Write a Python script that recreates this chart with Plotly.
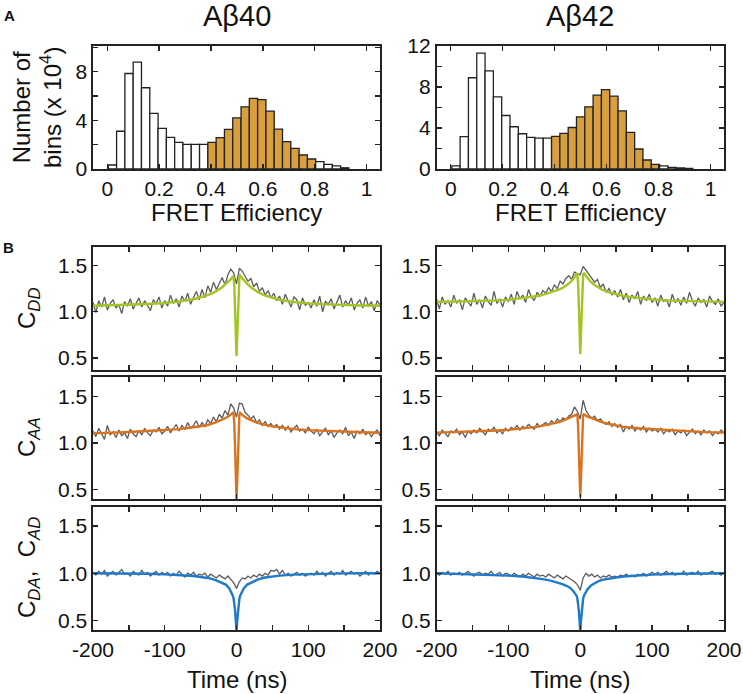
import plotly.graph_objects as go

# ---------------- data ----------------
fret_bin_centers = [0.020, 0.052, 0.084, 0.116, 0.148, 0.180, 0.212, 0.244, 0.276, 0.308,
                    0.340, 0.372, 0.404, 0.436, 0.468, 0.500, 0.532, 0.564, 0.596, 0.628,
                    0.660, 0.692, 0.724, 0.756, 0.788, 0.820, 0.852, 0.884, 0.916]
ab40_counts = [0.33, 3.1, 7.84, 8.77, 6.67, 4.56, 3.33, 2.6, 2.19, 2.02,
               2.02, 2.02, 2.19, 2.57, 3.25, 4.2, 5.1, 5.8, 5.7, 4.75,
               3.28, 2.24, 1.69, 1.15, 0.82, 0.6, 0.38, 0.25, 0.1]
ab42_counts = [0.3, 3.15, 8.9, 11.3, 9.57, 7.04, 5.22, 4.12, 3.44, 3.08,
               3.02, 3.02, 3.18, 3.47, 4.05, 5.09, 6.07, 7.2, 7.75, 7.1,
               5.68, 3.57, 1.95, 0.88, 0.45, 0.3, 0.16, 0.1, 0.06]
selected_range = [0.4, 0.8]
hist_xticks = [0, 0.2, 0.4, 0.6, 0.8, 1.0]
hist_xticklabels = ["0", "0.2", "0.4", "0.6", "0.8", "1"]

time_ns = list(range(-200, 201, 4))

ab40_cdd = [1.10, 0.99, 1.12, 1.05, 1.16, 1.02, 1.09, 1.13, 1.04, 1.08, 0.98, 1.11, 1.06, 1.14, 1.03, 1.10, 1.15, 1.05, 1.12, 1.07, 1.01, 1.13, 1.09, 1.16, 1.04,
            1.12, 1.06, 1.18, 1.09, 1.14, 1.05, 1.17, 1.11, 1.20, 1.08, 1.15, 1.22, 1.13,
            1.24, 1.15, 1.28, 1.21, 1.32, 1.24, 1.30, 1.37, 1.29, 1.40, 1.46, 1.42,
            1.30,
            1.47, 1.44, 1.38, 1.33, 1.36, 1.27, 1.31, 1.22, 1.26, 1.18, 1.23, 1.15,
            1.20, 1.12, 1.17, 1.08, 1.19, 1.11, 1.05, 1.16, 1.13, 1.02, 1.15, 1.07, 1.10,
            1.04, 1.13, 1.06, 1.17, 1.00, 1.11, 1.08, 1.14, 1.03, 1.10, 1.18, 1.05, 1.12, 1.07, 1.15, 1.02, 1.09, 1.13, 1.04, 1.16, 1.06, 1.11, 1.01, 1.12, 1.07]
ab40_caa = [1.13, 1.07, 1.16, 1.10, 1.04, 1.19, 1.09, 1.12, 1.06, 1.14, 1.08, 1.11, 1.05, 1.15, 1.10, 1.07, 1.13, 1.09, 1.16, 1.11, 1.08, 1.14, 1.12, 1.17, 1.10,
            1.13, 1.18, 1.11, 1.16, 1.20, 1.13, 1.19, 1.15, 1.22, 1.16, 1.19, 1.24, 1.17,
            1.22, 1.18, 1.25, 1.21, 1.28, 1.23, 1.31, 1.27, 1.35, 1.30, 1.42, 1.38,
            1.28,
            1.43, 1.42, 1.33, 1.30, 1.26, 1.29, 1.22, 1.25, 1.19, 1.23, 1.18, 1.21,
            1.17, 1.20, 1.15, 1.19, 1.14, 1.18, 1.12, 1.16, 1.19, 1.13, 1.15, 1.11, 1.17,
            1.13, 1.10, 1.15, 1.08, 1.12, 1.16, 1.09, 1.13, 1.06, 1.11, 1.14, 1.10, 1.17, 1.08, 1.12, 1.05, 1.13, 1.10, 1.15, 1.09, 1.12, 1.07, 1.11, 1.14, 1.08]
ab40_cda = [1.01, 0.98, 1.02, 0.99, 1.03, 0.97, 1.00, 1.02, 0.98, 1.01, 1.04, 0.99, 1.00, 0.97, 1.02, 1.00, 0.98, 1.03, 0.99, 1.01, 0.97, 1.00, 1.02, 0.98, 1.01,
            0.99, 1.01, 0.97, 1.00, 0.98, 1.02, 0.99, 0.96, 1.00, 0.98, 1.01, 0.97, 0.99,
            0.98, 1.00, 0.96, 0.99, 0.97, 0.95, 0.98, 0.96, 0.94, 0.97, 0.93, 0.90,
            0.84,
            0.91, 0.95, 0.94, 0.97, 0.95, 0.98, 0.96, 0.99, 0.97, 1.00, 0.98, 1.03,
            1.02, 1.04, 0.99, 1.03, 0.98, 1.00, 0.97, 0.99, 1.01, 0.98, 1.00, 0.97, 0.99,
            1.00, 0.98, 1.02, 0.99, 1.01, 0.97, 1.00, 1.02, 0.98, 1.01, 0.99, 1.03, 0.98, 1.00, 1.02, 0.99, 1.01, 0.97, 1.00, 1.02, 0.98, 1.01, 0.99, 1.02, 1.00]
ab42_cdd = [1.14, 1.03, 1.16, 1.08, 1.12, 1.05, 1.18, 1.09, 1.13, 1.02, 1.15, 1.10, 1.06, 1.20, 1.08, 1.13, 1.04, 1.17, 1.11, 1.07, 1.22, 1.09, 1.14, 1.05, 1.16,
            1.11, 1.19, 1.08, 1.22, 1.14, 1.18, 1.10, 1.24, 1.16, 1.12, 1.21, 1.17, 1.23,
            1.20, 1.26, 1.22, 1.29, 1.25, 1.33, 1.30, 1.36, 1.39, 1.35, 1.43, 1.41,
            1.40,
            1.49, 1.45, 1.41, 1.37, 1.32, 1.35, 1.26, 1.30, 1.21, 1.25, 1.18, 1.23,
            1.16, 1.24, 1.13, 1.20, 1.10, 1.18, 1.14, 1.22, 1.08, 1.17, 1.12, 1.19, 1.10,
            1.15, 1.06, 1.18, 1.11, 1.13, 1.05, 1.19, 1.10, 1.14, 1.07, 1.16, 1.09, 1.21, 1.12, 1.06, 1.15, 1.10, 1.13, 1.05, 1.17, 1.11, 1.08, 1.14, 1.06, 1.10]
ab42_caa = [1.12, 1.08, 1.14, 1.10, 1.07, 1.13, 1.11, 1.15, 1.09, 1.12, 1.06, 1.13, 1.10, 1.14, 1.11, 1.16, 1.12, 1.09, 1.15, 1.13, 1.17, 1.11, 1.14, 1.10, 1.16,
            1.13, 1.17, 1.15, 1.19, 1.14, 1.18, 1.16, 1.20, 1.17, 1.15, 1.21, 1.18, 1.20,
            1.22, 1.19, 1.24, 1.21, 1.26, 1.23, 1.27, 1.25, 1.29, 1.31, 1.39, 1.34,
            1.26,
            1.46, 1.35, 1.30, 1.27, 1.29, 1.24, 1.26, 1.22, 1.20, 1.23, 1.18, 1.21,
            1.17, 1.20, 1.12, 1.18, 1.15, 1.19, 1.13, 1.17, 1.14, 1.18, 1.12, 1.16, 1.13,
            1.15, 1.12, 1.16, 1.10, 1.14, 1.12, 1.15, 1.09, 1.13, 1.11, 1.14, 1.08, 1.12, 1.15, 1.10, 1.13, 1.09, 1.14, 1.11, 1.13, 1.08, 1.12, 1.10, 1.14, 1.11]
ab42_cda = [1.00, 0.98, 1.01, 0.99, 1.02, 0.98, 1.00, 0.99, 1.01, 0.98, 1.00, 1.02, 0.99, 0.97, 1.00, 1.01, 0.98, 1.00, 0.99, 1.02, 0.98, 0.99, 1.01, 0.97, 1.00,
            0.99, 0.97, 1.00, 0.98, 0.96, 0.99, 0.97, 1.00, 0.98, 0.96, 0.99, 0.97, 0.98,
            0.96, 0.99, 0.97, 0.95, 0.98, 0.96, 0.94, 0.97, 0.95, 0.93, 0.91, 0.88,
            0.82,
            0.95, 1.00, 0.97, 0.99, 0.96, 0.98, 0.95, 0.97, 0.96, 0.98, 0.96, 0.97,
            0.96, 0.98, 0.97, 0.99, 0.97, 0.98, 0.96, 0.99, 0.98, 1.00, 0.97, 0.99, 1.01,
            0.99, 1.01, 0.98, 1.00, 1.02, 0.99, 1.01, 0.98, 1.00, 0.99, 1.02, 0.98, 1.00, 1.01, 0.99, 1.02, 0.98, 1.00, 0.99, 1.01, 1.02, 0.99, 1.00, 0.98, 1.01]

fit_time_ns = [-200, -175, -150, -125, -100, -80, -60, -50, -40, -30, -25, -20, -15, -10, -7, -5, -4, -3, -2, -1,
               0, 1, 2, 3, 4, 5, 7, 10, 15, 20, 25, 30, 40, 50, 60, 80, 100, 125, 150, 175, 200]
ab40_cdd_fit = [1.065, 1.069, 1.075, 1.083, 1.095, 1.11, 1.135, 1.155, 1.18, 1.215, 1.24, 1.265, 1.30, 1.335, 1.36, 1.385, 1.37, 1.27, 1.05, 0.72,
                0.52, 0.72, 1.05, 1.27, 1.37, 1.39, 1.37, 1.34, 1.30, 1.265, 1.235, 1.21, 1.175, 1.15, 1.13, 1.105, 1.09, 1.08, 1.072, 1.068, 1.065]
ab40_caa_fit = [1.105, 1.11, 1.12, 1.13, 1.14, 1.15, 1.17, 1.18, 1.195, 1.22, 1.235, 1.25, 1.27, 1.295, 1.31, 1.325, 1.31, 1.2, 0.95, 0.6,
                0.40, 0.6, 0.95, 1.2, 1.31, 1.325, 1.31, 1.29, 1.265, 1.245, 1.23, 1.215, 1.195, 1.18, 1.17, 1.15, 1.14, 1.13, 1.122, 1.116, 1.112]
ab40_cda_fit = [1.0, 1.0, 0.998, 0.995, 0.988, 0.98, 0.97, 0.96, 0.95, 0.93, 0.915, 0.90, 0.88, 0.84, 0.80, 0.76, 0.73, 0.68, 0.61, 0.50,
                0.38, 0.50, 0.61, 0.68, 0.73, 0.76, 0.80, 0.84, 0.88, 0.90, 0.92, 0.935, 0.955, 0.965, 0.975, 0.985, 0.99, 0.995, 0.998, 1.0, 1.0]
ab42_cdd_fit = [1.105, 1.108, 1.113, 1.12, 1.128, 1.145, 1.17, 1.187, 1.21, 1.24, 1.255, 1.28, 1.31, 1.35, 1.38, 1.41, 1.40, 1.30, 1.08, 0.75,
                0.54, 0.75, 1.08, 1.30, 1.40, 1.42, 1.40, 1.36, 1.32, 1.29, 1.265, 1.24, 1.21, 1.19, 1.17, 1.15, 1.133, 1.12, 1.113, 1.109, 1.107]
ab42_caa_fit = [1.113, 1.118, 1.125, 1.133, 1.142, 1.155, 1.175, 1.19, 1.205, 1.225, 1.24, 1.255, 1.27, 1.285, 1.30, 1.31, 1.30, 1.19, 0.95, 0.62,
                0.42, 0.62, 0.95, 1.19, 1.30, 1.31, 1.30, 1.285, 1.27, 1.255, 1.24, 1.225, 1.205, 1.19, 1.175, 1.16, 1.15, 1.135, 1.125, 1.118, 1.113]
ab42_cda_fit = [1.0, 0.995, 0.99, 0.983, 0.975, 0.965, 0.95, 0.935, 0.92, 0.9, 0.885, 0.87, 0.85, 0.815, 0.785, 0.76, 0.73, 0.68, 0.61, 0.50,
                0.38, 0.50, 0.61, 0.68, 0.73, 0.76, 0.79, 0.83, 0.87, 0.895, 0.915, 0.93, 0.945, 0.955, 0.965, 0.978, 0.985, 0.992, 0.996, 0.999, 1.0]

time_ticks = [-200, -100, 0, 100, 200]
corr_yticks = [0.5, 1.0, 1.5]
corr_yticklabels = ["0.5", "1.0", "1.5"]

# ---------------- style ----------------
W, H = 743, 694
FONT = "Liberation Sans, Arial, sans-serif"
AX = "#222222"
GREY = "#5c5c5c"
ORANGE_BAR = "#D99F3E"
GREEN = "#A2C523"
ORANGE = "#D9731E"
BLUE = "#1F7ACB"


def px_x(p):
    return p / W


def px_y(p):
    return 1 - p / H


fig = go.Figure()
layout = dict(width=W, height=H, margin=dict(l=0, r=0, t=0, b=0, pad=0, autoexpand=False),
              paper_bgcolor="white", plot_bgcolor="white", showlegend=False,
              font=dict(family=FONT, color="#111"), annotations=[])

col_x = [(93, 380), (436.5, 724)]


def axis_common(minor_dtick):
    return dict(showline=True, linecolor=AX, linewidth=1.6, mirror="ticks",
                ticks="inside", ticklen=5, tickwidth=1.4, tickcolor=AX,
                minor=dict(dtick=minor_dtick, ticks="inside", ticklen=5, tickwidth=1.4,
                           tickcolor=AX, showgrid=False),
                showgrid=False, zeroline=False, automargin=False,
                tickfont=dict(family=FONT, size=21, color="#111"))


# histograms
for i, (counts, title) in enumerate([(ab40_counts, "A\u03b240"), (ab42_counts, "A\u03b242")]):
    n = i + 1
    colors = [ORANGE_BAR if selected_range[0] <= c <= selected_range[1] else "white"
              for c in fret_bin_centers]
    fig.add_trace(go.Bar(x=fret_bin_centers, y=counts, width=0.032,
                         marker=dict(color=colors, line=dict(color="#222", width=1.3)),
                         xaxis="x" if n == 1 else f"x{n}", yaxis="y" if n == 1 else f"y{n}"))
    xa = axis_common(0.2)
    xa.update(domain=[px_x(col_x[i][0]), px_x(col_x[i][1])], range=[-0.055, 1.052],
              tickvals=hist_xticks, ticktext=hist_xticklabels,
              anchor="y" if n == 1 else f"y{n}")
    ya = axis_common(2)
    ymax = 10.1 if n == 1 else 12.0
    ytv = [0, 4, 8] if n == 1 else [0, 4, 8, 12]
    ya.update(domain=[px_y(169), px_y(46)], range=[0, ymax], tickvals=ytv,
              ticktext=[str(v) for v in ytv],
              anchor="x" if n == 1 else f"x{n}")
    layout["xaxis" if n == 1 else f"xaxis{n}"] = xa
    layout["yaxis" if n == 1 else f"yaxis{n}"] = ya
    cx = (col_x[i][0] + col_x[i][1]) / 2
    layout["annotations"].append(dict(text=title, x=px_x(cx), y=px_y(16), xref="paper", yref="paper",
                                      showarrow=False, xanchor="center", yanchor="middle",
                                      font=dict(family=FONT, size=29, color="#111")))
    layout["annotations"].append(dict(text="FRET Efficiency", x=px_x(cx), y=px_y(213), xref="paper", yref="paper",
                                      showarrow=False, xanchor="center", yanchor="middle",
                                      font=dict(family=FONT, size=24, color="#111")))

# correlation panels
rows_px = [(247, 370, [0.37, 1.70]), (377, 499, [0.40, 1.71]), (507, 630, [0.40, 1.70])]
data_sets = [
    [(ab40_cdd, ab40_cdd_fit, GREEN), (ab42_cdd, ab42_cdd_fit, GREEN)],
    [(ab40_caa, ab40_caa_fit, ORANGE), (ab42_caa, ab42_caa_fit, ORANGE)],
    [(ab40_cda, ab40_cda_fit, BLUE), (ab42_cda, ab42_cda_fit, BLUE)],
]
n = 2
for r, (top, bot, yr) in enumerate(rows_px):
    for c in range(2):
        n += 1
        grey, fit, colr = data_sets[r][c]
        fig.add_trace(go.Scatter(x=time_ns, y=grey, mode="lines",
                                 line=dict(color=GREY, width=1.3),
                                 xaxis=f"x{n}", yaxis=f"y{n}"))
        fig.add_trace(go.Scatter(x=fit_time_ns, y=fit, mode="lines",
                                 line=dict(color=colr, width=2.4),
                                 xaxis=f"x{n}", yaxis=f"y{n}"))
        xa = axis_common(50)
        xa.update(domain=[px_x(col_x[c][0]), px_x(col_x[c][1])], range=[-200, 200],
                  tickvals=time_ticks, ticktext=[str(v) for v in time_ticks],
                  showticklabels=(r == 2), anchor=f"y{n}")
        ya = axis_common(0.5)
        ya.update(domain=[px_y(bot), px_y(top)], range=yr,
                  tickvals=corr_yticks, ticktext=corr_yticklabels, anchor=f"x{n}")
        layout[f"xaxis{n}"] = xa
        layout[f"yaxis{n}"] = ya

for c in range(2):
    cx = (col_x[c][0] + col_x[c][1]) / 2
    layout["annotations"].append(dict(text="Time (ns)", x=px_x(cx), y=px_y(679), xref="paper", yref="paper",
                                      showarrow=False, xanchor="center", yanchor="middle",
                                      font=dict(family=FONT, size=24, color="#111")))

ylabels = [
    ("Number of<br>bins (x 10<sup>4</sup>)", 37, 108),
    ("C<sub><i>DD</i></sub>", 28, 308),
    ("C<sub><i>AA</i></sub>", 28, 437),
    ("C<sub><i>DA</i></sub>,  C<sub><i>AD</i></sub>", 28, 568),
]
for txt, x, y in ylabels:
    layout["annotations"].append(dict(text=txt, x=px_x(x), y=px_y(y), xref="paper", yref="paper",
                                      showarrow=False, xanchor="center", yanchor="middle", textangle=-90,
                                      font=dict(family=FONT, size=24, color="#111")))

for txt, x, y in [("A", 9, 15), ("B", 8, 247)]:
    layout["annotations"].append(dict(text=f"<b>{txt}</b>", x=px_x(x), y=px_y(y), xref="paper", yref="paper",
                                      showarrow=False, xanchor="center", yanchor="middle",
                                      font=dict(family=FONT, size=15, color="#111")))

layout["bargap"] = 0
fig.update_layout(**layout)
fig.write_html("out.html", config={"displayModeBar": False, "staticPlot": True},
               post_script="document.body.style.margin='0';document.body.style.overflow='hidden';")
